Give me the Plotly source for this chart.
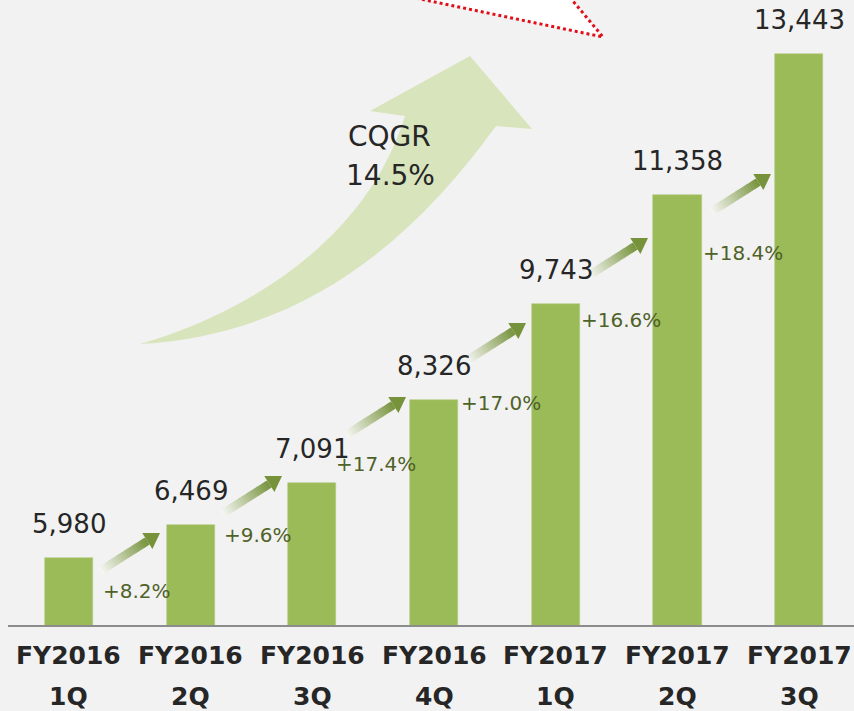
import plotly.graph_objects as go

# ---- data -------------------------------------------------------------
FISCAL_YEARS = ["FY2016", "FY2016", "FY2016", "FY2016", "FY2017", "FY2017", "FY2017"]
QUARTERS = ["1Q", "2Q", "3Q", "4Q", "1Q", "2Q", "3Q"]
VALUES = [5980, 6469, 7091, 8326, 9743, 11358, 13443]

# quarter-on-quarter growth and compound quarterly growth rate
GROWTH = [f"+{(cur / prev - 1) * 100:.1f}%" for prev, cur in zip(VALUES[:-1], VALUES[1:])]
CQGR = (VALUES[-1] / VALUES[0]) ** (1 / (len(VALUES) - 1)) - 1

# ---- styling / layout constants ---------------------------------------
W, H = 854, 711
M_L, M_R, M_T, M_B = 8, 0, 0, 86
BG = "#f2f2f2"
BAR_COLOR = "#9bbb59"
TEXT = "#262626"
GROWTH_TEXT = "#4f6228"
FONT = "DejaVu Sans"
BAR_WIDTH = 0.395
Y_RANGE = [4988, 14243]

PLOT_W = W - M_L - M_R
PLOT_H = H - M_T - M_B


def px(x, y):
    """Canvas pixel -> paper coordinates."""
    return (x - M_L) / PLOT_W, (H - M_B - y) / PLOT_H


def path_from(points, close=True):
    parts = []
    for i, (x, y) in enumerate(points):
        u, v = px(x, y)
        parts.append(("M" if i == 0 else "L") + f"{u:.5f},{v:.5f}")
    return " ".join(parts) + (" Z" if close else "")


x_idx = list(range(len(VALUES)))

fig = go.Figure(
    go.Bar(
        x=x_idx,
        y=VALUES,
        width=BAR_WIDTH,
        marker=dict(color=BAR_COLOR, line=dict(color="#b3cb80", width=0.6)),
        hoverinfo="skip",
    )
)

shapes = []
annotations = []

# ---- big curved CQGR arrow ---------------------------------------------
def curve_path():
    def p(x, y):
        u, v = px(x, y)
        return f"{u:.5f},{v:.5f}"
    return (
        f"M{p(140, 344)} C{p(240, 315)} {p(365, 245)} {p(405, 116)} "
        f"L{p(370, 111)} L{p(470, 56)} L{p(532, 129)} L{p(496, 126)} "
        f"C{p(410, 245)} {p(300, 335)} {p(140, 344)} Z"
    )

shapes.append(dict(type="path", xref="paper", yref="paper", path=curve_path(),
                   fillcolor="#d8e4bc", line=dict(width=0), layer="below"))

annotations.append(dict(xref="paper", yref="paper", x=px(389, 137)[0], y=px(389, 137)[1],
                        text="CQGR", showarrow=False, xanchor="center", yanchor="middle",
                        font=dict(family=FONT, size=28, color=TEXT)))
annotations.append(dict(xref="paper", yref="paper", x=px(390, 176)[0], y=px(390, 176)[1],
                        text=f"{CQGR * 100:.1f}%", showarrow=False, xanchor="center",
                        yanchor="middle", font=dict(family=FONT, size=28, color=TEXT)))

# ---- small gradient arrows between bars --------------------------------
ARROW_HEADS = [(160, 533), (282, 476), (406, 397), (526, 323), (648, 238), (771, 174)]
ARROW_VEC = (-60, 38)          # head -> tail
SHAFT_W, HEAD_W, HEAD_L = 8.5, 19, 15
C_TAIL = (248, 248, 246)
C_HEAD = (118, 147, 60)
N_SEG = 18

for hx, hy in ARROW_HEADS:
    tx, ty = hx + ARROW_VEC[0], hy + ARROW_VEC[1]
    L = (ARROW_VEC[0] ** 2 + ARROW_VEC[1] ** 2) ** 0.5
    dx, dy = (hx - tx) / L, (hy - ty) / L
    nx, ny = -dy, dx
    sx, sy = hx - dx * HEAD_L, hy - dy * HEAD_L
    for k in range(N_SEG):
        t0, t1 = k / N_SEG, min(1.0, (k + 1.15) / N_SEG)
        ax, ay = tx + (sx - tx) * t0, ty + (sy - ty) * t0
        bx, by = tx + (sx - tx) * t1, ty + (sy - ty) * t1
        w = SHAFT_W / 2
        pts = [(ax + nx * w, ay + ny * w), (bx + nx * w, by + ny * w),
               (bx - nx * w, by - ny * w), (ax - nx * w, ay - ny * w)]
        f = (k + 0.5) / N_SEG
        col = tuple(round(C_TAIL[i] + (C_HEAD[i] - C_TAIL[i]) * f) for i in range(3))
        shapes.append(dict(type="path", xref="paper", yref="paper", path=path_from(pts),
                           fillcolor=f"rgb{col}", line=dict(width=0), layer="below"))
    hw = HEAD_W / 2
    head = [(hx, hy), (sx + nx * hw, sy + ny * hw), (sx - nx * hw, sy - ny * hw)]
    shapes.append(dict(type="path", xref="paper", yref="paper", path=path_from(head),
                       fillcolor=f"rgb{C_HEAD}", line=dict(width=0), layer="below"))

# ---- red dotted call-out wedge at the top --------------------------------
wedge = [(281, -30), (603, 37), (547, -30)]
shapes.append(dict(type="path", xref="paper", yref="paper", path=path_from(wedge),
                   fillcolor="white", line=dict(width=0), layer="above"))
shapes.append(dict(type="path", xref="paper", yref="paper", path=path_from(wedge, close=False),
                   line=dict(color="#e0101a", width=3, dash="3px,3px"), layer="above"))

# ---- value labels above bars -------------------------------------------
for i, v in enumerate(VALUES):
    annotations.append(dict(x=i, y=v, xref="x", yref="y", text=f"{v:,}", showarrow=False,
                            xanchor="center", yanchor="middle", yshift=34,
                            font=dict(family=FONT, size=26, color=TEXT)))

# ---- growth labels ------------------------------------------------------
GROWTH_XSHIFT = [8, 7, -2, 1, -1, -1]
GROWTH_Y_PX = [590.5, 534.5, 464, 402.5, 320, 252.5]
for k, g in enumerate(GROWTH):
    annotations.append(dict(x=k + BAR_WIDTH / 2, xref="x", xshift=GROWTH_XSHIFT[k],
                            y=px(0, GROWTH_Y_PX[k])[1], yref="paper", text=g,
                            showarrow=False, xanchor="left", yanchor="middle",
                            font=dict(family=FONT, size=20, color=GROWTH_TEXT)))

# ---- category labels (two lines) -------------------------------------------
for i in x_idx:
    annotations.append(dict(x=i, xref="x", y=0, yref="paper", yshift=-30,
                            text=f"<b>{FISCAL_YEARS[i]}</b>", showarrow=False,
                            xanchor="center", yanchor="middle",
                            font=dict(family=FONT, size=25, color=TEXT)))
    annotations.append(dict(x=i, xref="x", y=0, yref="paper", yshift=-71,
                            text=f"<b>{QUARTERS[i]}</b>", showarrow=False,
                            xanchor="center", yanchor="middle",
                            font=dict(family=FONT, size=25, color=TEXT)))

fig.update_layout(
    width=W, height=H,
    margin=dict(l=M_L, r=M_R, t=M_T, b=M_B, pad=0),
    paper_bgcolor=BG, plot_bgcolor=BG,
    showlegend=False,
    shapes=shapes,
    annotations=annotations,
    xaxis=dict(range=[-0.5, 6.45], showticklabels=False, ticks="", showgrid=False,
               zeroline=False, showline=True, linecolor="#8c8c8c", linewidth=2,
               fixedrange=True),
    yaxis=dict(range=Y_RANGE, visible=False, fixedrange=True),
    bargap=0,
)

fig.write_html("out.html", config={"displayModeBar": False})
